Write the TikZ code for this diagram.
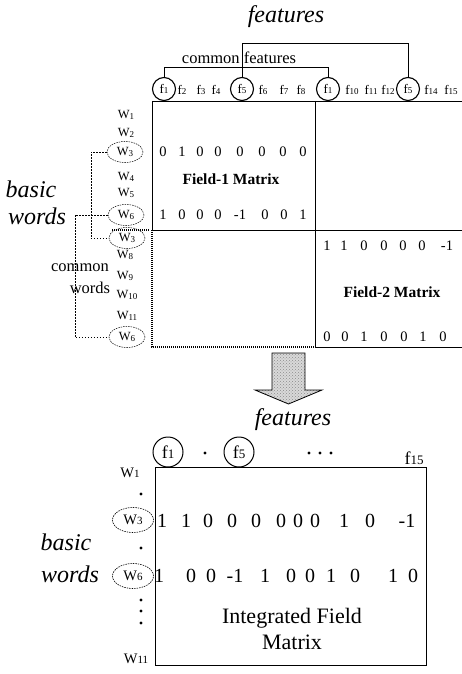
\documentclass[tikz,border=0pt]{standalone}
\usepackage{fontspec}
\setmainfont{Liberation Serif}
\usetikzlibrary{shapes.geometric,patterns}
\newcommand{\fsz}[2]{\fontsize{#1}{#2}\selectfont}
\newcommand{\fl}[1]{f{\fsz{9}{9}#1}}
\newcommand{\wl}[1]{W{\fsz{9}{9}\raisebox{-0.6pt}{#1}}}
\newcommand{\bfl}[1]{f{\fsz{13}{13}#1}}
\newcommand{\bwl}[1]{W{\fsz{11}{11}#1}}
\begin{document}
\begin{tikzpicture}[x=1pt,y=-1pt,
  lbl/.style={inner sep=0pt,font=\fsz{13}{13}},
  wlb/.style={inner sep=0pt,font=\fsz{12.5}{12.5}},
  num/.style={inner sep=0pt,font=\fsz{14.5}{14.5}},
  bnum/.style={inner sep=0pt,font=\fsz{20}{20}},
  ital/.style={inner sep=0pt,font=\fsz{24}{24}\itshape},
  ttl/.style={inner sep=0pt,font=\fsz{15.5}{15.5}\bfseries},
  plain/.style={inner sep=0pt,font=\fsz{16.5}{16.5}},
  fcirc/.style={circle,draw,line width=1.1pt,minimum size=23pt,inner sep=0pt,font=\fsz{13}{13}},
  bcirc/.style={circle,draw,line width=1pt,minimum size=30pt,inner sep=0pt,font=\fsz{18}{18}},
  wcirc/.style={ellipse,draw,dash pattern=on 1.5pt off 1pt,line width=0.5pt,minimum width=36pt,minimum height=21pt,inner sep=0pt,font=\fsz{12.5}{12.5}},
  bwcirc/.style={ellipse,draw,dash pattern=on 1.5pt off 1pt,line width=0.6pt,minimum width=41pt,minimum height=25pt,inner sep=0pt,font=\fsz{14.5}{14.5}},
  frame/.style={line width=0.9pt},
  heavydot/.style={line width=1.6pt,dash pattern=on 1pt off 1pt},
  brk/.style={line width=0.5pt,dash pattern=on 1.5pt off 1.5pt},
  topbrk/.style={line width=0.8pt},
  dotn/.style={circle,fill,inner sep=0pt,minimum size=3.4pt}]
\useasboundingbox (0,0) rectangle (462,674);
% ---------- top part ----------
\node[ital] (tfeat) at (286,17) {features};
\node[plain] (cfeat) at (239,58) {common features};
\node[fcirc] (fa) at (164,89) {\fl{1}};
\node[fcirc] (fe) at (242,89) {\fl{5}};
\node[fcirc] (fc) at (328,89) {\fl{1}};
\node[fcirc] (fg) at (408,89) {\fl{5}};
\foreach \x/\t [count=\i] in {182/2,201/3,216/4,263/6,284/7,301/8,352/10,371/11,388/12,431/14,451/15}
  \node[lbl] (tf\i) at (\x,90) {\fl{\t}};
\draw[topbrk] (fa.north) -- ++(0,-10) -| (fc.north);
\draw[topbrk] (fe.north) -- ++(0,-34) -| (fg.north);
% matrix frames
\draw[frame] (152,101) -- (462,101);
\draw[frame] (152,101) -- (152,230);
\draw[frame] (152,230) -- (462,230);
\draw[frame] (315,101) -- (315,347) -- (462,347);
\draw[heavydot] (152,230) -- (152,347) -- (315,347);
\draw[heavydot] (112,230) -- (150,230);
% word labels
\node[wlb] (w1) at (126,115) {\wl{1}};
\node[wlb] (w2) at (126,133) {\wl{2}};
\node[wcirc] (w3a) at (125,152) {\wl{3}};
\node[wlb] (w4) at (126,177) {\wl{4}};
\node[wlb] (w5) at (126,193) {\wl{5}};
\node[wcirc] (w6a) at (126,215) {\wl{6}};
\node[wcirc] (w3b) at (127,238) {\wl{3}};
\node[wlb] (w8) at (125,255) {\wl{8}};
\node[wlb] (w9) at (125,276) {\wl{9}};
\node[wlb] (w10) at (127,295) {\wl{10}};
\node[wlb] (w11) at (127,316) {\wl{11}};
\node[wcirc] (w6b) at (127,337) {\wl{6}};
\draw[brk] (w3a.west) -- ++(-16,0) |- (w3b.west);
\draw[brk] (w6a.west) -- ++(-33,0) |- (w6b.west);
\node[ital] (basic1) at (31,189) {basic};
\node[ital] (words1) at (37,216) {words};
\node[plain] (comm) at (80,268) {common};
\node[plain] (cwords) at (90,288) {words};
% Field-1 entries
\foreach \x/\t [count=\i] in {163/0,182/1,200/0,218/0,240/0,262/0,283/0,303/0}
  \node[num] (ra\i) at (\x,152) {\t};
\foreach \x/\t [count=\i] in {163/1,182/0,200/0,218/0,240/-1,265/0,284/0,303/1}
  \node[num] (rb\i) at (\x,215) {\t};
\node[ttl] (f1m) at (231,179) {Field-1 Matrix};
% Field-2 entries
\foreach \x/\t [count=\i] in {327/1,344/1,364/0,384/0,403/0,422/0,447/-1}
  \node[num] (rc\i) at (\x,246) {\t};
\foreach \x/\t [count=\i] in {327/0,345/0,364/1,384/0,404/0,423/1,443/0}
  \node[num] (rd\i) at (\x,337) {\t};
\node[ttl] (f2m) at (392,292) {Field-2 Matrix};
% ---------- arrow ----------
\draw[line width=0.8pt,preaction={fill=gray!30},preaction={pattern=crosshatch dots,pattern color=gray!90}]
  (272,353) -- (305,353) -- (305,390) -- (322,390)
  -- (288.5,404) -- (255,390) -- (272,390) -- cycle;
% ---------- bottom part ----------
\node[ital] (bfeat) at (293,420) {features};
\node[bcirc] (bf1) at (168,452) {\bfl{1}};
\node[dotn] (bd1) at (205,453) {};
\node[bcirc] (bf5) at (239,452) {\bfl{5}};
\node[dotn] (bd2) at (309,453) {};
\node[dotn] (bd3) at (320,453) {};
\node[dotn] (bd4) at (331,453) {};
\node[inner sep=0pt,font=\fsz{18}{18}] (bf15) at (414,458) {\bfl{15}};
\draw[frame] (155,467) rectangle (426,665);
\node[inner sep=0pt,font=\fsz{14.5}{14.5}] (bw1) at (130,473) {\bwl{1}};
\node[dotn] (vd1) at (141,494) {};
\node[bwcirc] (bw3) at (133,520) {\bwl{3}};
\node[dotn] (vd2) at (141,548) {};
\node[bwcirc] (bw6) at (133,576) {\bwl{6}};
\node[dotn] (vd3) at (141,600) {};
\node[dotn] (vd4) at (141,611) {};
\node[dotn] (vd5) at (141,623) {};
\node[inner sep=0pt,font=\fsz{14.5}{14.5}] (bw11) at (136,659) {\bwl{11}};
\node[ital] (basic2) at (66,542) {basic};
\node[ital] (words2) at (70,574) {words};
\foreach \x/\t [count=\i] in {162/1,186/1,208/0,232/0,256/0,281/0,298/0,315/0,344/1,370/0,407/-1}
  \node[bnum] (re\i) at (\x,521) {\t};
\foreach \x/\t [count=\i] in {159/1,191/0,211/0,235/-1,265/1,291/0,310/0,331/1,355/0,393/1,413/0}
  \node[bnum] (rf\i) at (\x,576) {\t};
\node[inner sep=0pt,font=\fsz{22}{22}] (ifm1) at (292,618) {Integrated Field};
\node[inner sep=0pt,font=\fsz{22}{22}] (ifm2) at (292,642) {Matrix};
\end{tikzpicture}
\end{document}
